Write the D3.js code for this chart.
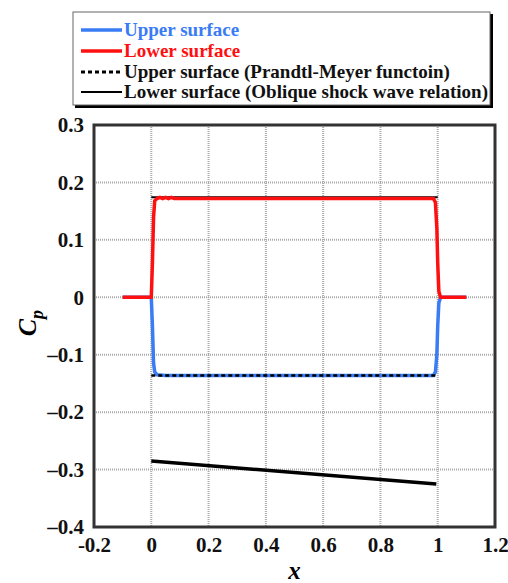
<!DOCTYPE html>
<html>
<head>
<meta charset="utf-8">
<script src="https://cdn.jsdelivr.net/npm/d3@7"></script>
<style>
  body { margin: 0; background: #fff; }
</style>
</head>
<body>
<div id="chart"></div>
<script>
// data
const xTicks = [-0.2, 0, 0.2, 0.4, 0.6, 0.8, 1, 1.2];
const yTicks = [-0.4, -0.3, -0.2, -0.1, 0, 0.1, 0.2, 0.3];

const upperX = [-0.1, 0, 0.004, 0.008, 0.012, 0.02, 0.05, 0.5, 0.985, 0.992, 0.997, 1.0, 1.004, 1.01, 1.1];
const upperY = [0, 0, -0.05, -0.115, -0.13, -0.135, -0.136, -0.136, -0.136, -0.13, -0.1, -0.05, -0.01, 0, 0];

const lowerX = [-0.1, 0, 0.004, 0.008, 0.012, 0.02, 0.03, 0.04, 0.05, 0.06, 0.07, 0.08, 0.1, 0.5, 0.985, 0.992, 0.997, 1.0, 1.004, 1.01, 1.1];
const lowerY = [0, 0, 0.06, 0.14, 0.168, 0.172, 0.174, 0.172, 0.174, 0.172, 0.174, 0.172, 0.172, 0.172, 0.172, 0.165, 0.12, 0.06, 0.01, 0, 0];

const pmX = [0, 1];
const pmY = [-0.136, -0.136];

const obliqueTopX = [0, 1];
const obliqueTopY = [0.174, 0.174];
const obliqueBotX = [0, 0.995];
const obliqueBotY = [-0.285, -0.325];

const legendLabels = ["Upper surface", "Lower surface", "Upper surface (Prandtl-Meyer functoin)", "Lower surface (Oblique shock wave relation)"];

const W = 508, H = 583;
const m = { left: 94, top: 125, right: 13, bottom: 56 };
const FONT = "'Liberation Serif', 'Times New Roman', serif";

const svg = d3.select("#chart").append("svg")
  .attr("width", W).attr("height", H);

const x = d3.scaleLinear().domain([-0.2, 1.2]).range([m.left, W - m.right]);
const y = d3.scaleLinear().domain([-0.4, 0.3]).range([H - m.bottom, m.top]);

// grid
svg.append("g").selectAll("line").data(xTicks.slice(1, -1)).enter().append("line")
  .attr("x1", d => x(d)).attr("x2", d => x(d))
  .attr("y1", y(0.3)).attr("y2", y(-0.4))
  .attr("stroke", "#aaa").attr("stroke-width", 2).attr("stroke-dasharray", "1,1");
svg.append("g").selectAll("line").data(yTicks.slice(1, -1)).enter().append("line")
  .attr("x1", x(-0.2)).attr("x2", x(1.2))
  .attr("y1", d => y(d)).attr("y2", d => y(d))
  .attr("stroke", "#aaa").attr("stroke-width", 2).attr("stroke-dasharray", "1,1");

// axes (labels only, frame drawn below)
const xAxis = svg.append("g").attr("transform", `translate(0,${y(-0.4)})`)
  .call(d3.axisBottom(x).tickValues(xTicks).tickSize(0).tickPadding(10).tickFormat(d => {
    const v = +d.toFixed(1);
    return v < 0 ? "-" + Math.abs(v) : String(v);
  }));
const yAxis = svg.append("g").attr("transform", `translate(${x(-0.2)},0)`)
  .call(d3.axisLeft(y).tickValues(yTicks).tickSize(0).tickPadding(10).tickFormat(d => {
    const v = +d.toFixed(1);
    return v < 0 ? "\u2013" + Math.abs(v) : String(v);
  }));
[xAxis, yAxis].forEach(a => {
  a.select(".domain").remove();
  a.selectAll("text").attr("fill", "#111")
    .style("font-family", FONT).style("font-weight", "bold").style("font-size", "21px");
});

// lines
const line = d3.line().x(d => x(d[0])).y(d => y(d[1]));
const zip = (a, b) => a.map((v, i) => [v, b[i]]);

svg.append("path").datum(zip(obliqueTopX, obliqueTopY)).attr("d", line)
  .attr("fill", "none").attr("stroke", "#000").attr("stroke-width", 2);
svg.append("path").datum(zip(upperX, upperY)).attr("d", line)
  .attr("fill", "none").attr("stroke", "#3a7cf5").attr("stroke-width", 3.5);
svg.append("path").datum(zip(lowerX, lowerY)).attr("d", line)
  .attr("fill", "none").attr("stroke", "#ff1010").attr("stroke-width", 3.5);
svg.append("path").datum(zip(pmX, pmY)).attr("d", line)
  .attr("fill", "none").attr("stroke", "#000").attr("stroke-width", 2.5).attr("stroke-dasharray", "4,3");
svg.append("path").datum(zip(obliqueBotX, obliqueBotY)).attr("d", line)
  .attr("fill", "none").attr("stroke", "#000").attr("stroke-width", 3.5);

// frame
svg.append("rect")
  .attr("x", x(-0.2)).attr("y", y(0.3))
  .attr("width", x(1.2) - x(-0.2)).attr("height", y(-0.4) - y(0.3))
  .attr("fill", "none").attr("stroke", "#333").attr("stroke-width", 3);

// axis titles
svg.append("text").attr("x", x(0.5)).attr("y", 579)
  .attr("text-anchor", "middle")
  .style("font-family", FONT).style("font-weight", "bold").style("font-style", "italic").style("font-size", "25px")
  .text("x");
const cp = svg.append("text").attr("transform", `translate(36,${y(-0.045)}) rotate(-90)`)
  .attr("text-anchor", "middle")
  .style("font-family", FONT).style("font-weight", "bold").style("font-style", "italic").style("font-size", "26px");
cp.append("tspan").text("C");
cp.append("tspan").style("font-size", "18px").attr("dy", 7).text("p");

// legend
const lg = svg.append("g");
lg.append("rect").attr("x", 75).attr("y", 14).attr("width", 418).attr("height", 94)
  .attr("fill", "#000");
lg.append("rect").attr("x", 73).attr("y", 12).attr("width", 417).attr("height", 93)
  .attr("fill", "#fff").attr("stroke", "#666").attr("stroke-width", 1);
const legColors = ["#3a7cf5", "#ff1010", "#000", "#000"];
const legText = ["#3a7cf5", "#ff1010", "#111", "#111"];
const legDash = [null, null, "4,3", null];
const legW = [3.5, 3.5, 3, 2];
const legY = [30, 51, 72, 92];
legendLabels.forEach((t, i) => {
  lg.append("line").attr("x1", 81).attr("x2", 122).attr("y1", legY[i]).attr("y2", legY[i])
    .attr("stroke", legColors[i]).attr("stroke-width", legW[i]).attr("stroke-dasharray", legDash[i]);
  lg.append("text").attr("x", 124).attr("y", legY[i] + 6)
    .style("font-family", FONT).style("font-weight", "bold").style("font-size", "19px")
    .attr("fill", legText[i]).text(t);
});
</script>
</body>
</html>
